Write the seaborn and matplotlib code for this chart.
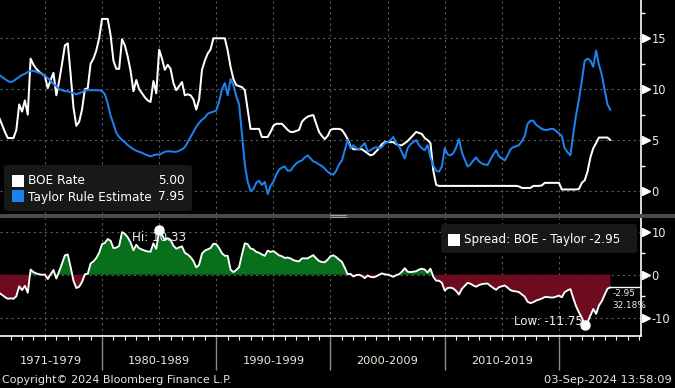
import numpy as np
import pandas as pd
import matplotlib
matplotlib.use("Agg")
import matplotlib.pyplot as plt
import matplotlib.transforms as mtransforms
from matplotlib.patches import FancyBboxPatch, Rectangle
import seaborn as sns

# quarterly readings, 1971.00 ... 2024.50
quarters = np.arange(1971.0, 2024.51, 0.25)

boe_rate = [
    7.2, 6.5, 5.8, 5.2,      # 1971
    5.2, 5.2, 6.0, 8.5,      # 1972
    7.8, 8.9, 7.5, 13.0,     # 1973
    12.4, 12.0, 11.7, 11.5,  # 1974
    11.3, 10.1, 10.9, 11.6,  # 1975
    9.4, 10.8, 12.5, 14.3,   # 1976
    14.5, 11.5, 8.2, 6.4,    # 1977
    6.8, 8.0, 10.0, 10.1,    # 1978
    12.5, 13.0, 13.8, 15.0,  # 1979
    16.9, 16.9, 16.9, 15.3,  # 1980
    12.8, 12.0, 12.0, 14.9,  # 1981
    14.3, 13.2, 11.8, 9.8,   # 1982
    10.9, 10.0, 9.6, 9.2,    # 1983
    8.9, 8.75, 10.8, 9.6,    # 1984
    13.88, 13.0, 11.9, 12.4, # 1985
    12.0, 10.6, 9.9, 10.3,   # 1986
    10.7, 9.4, 9.5, 9.4,     # 1987
    9.0, 8.0, 9.0, 11.9,     # 1988
    12.8, 13.5, 13.9, 15.0,  # 1989
    15.0, 15.0, 15.0, 15.0,  # 1990
    13.8, 12.2, 11.0, 10.4,  # 1991
    10.3, 10.2, 9.9, 8.0,    # 1992
    6.1, 6.1, 6.1, 6.1,      # 1993
    5.3, 5.3, 5.3, 5.8,      # 1994
    6.4, 6.6, 6.6, 6.6,      # 1995
    6.3, 6.0, 5.8, 5.8,      # 1996
    5.9, 6.0, 6.8, 7.1,      # 1997
    7.3, 7.4, 7.45, 6.6,     # 1998
    5.8, 5.4, 5.1, 5.4,      # 1999
    6.0, 6.1, 6.1, 6.1,      # 2000
    6.0, 5.6, 5.1, 4.4,      # 2001
    4.1, 4.1, 4.1, 4.1,      # 2002
    3.9, 3.7, 3.5, 3.6,      # 2003
    3.9, 4.2, 4.6, 4.8,      # 2004
    4.8, 4.8, 4.8, 4.6,      # 2005
    4.5, 4.5, 4.7, 4.9,      # 2006
    5.2, 5.5, 5.8, 5.7,      # 2007
    5.6, 5.2, 5.0, 4.7,      # 2008
    2.0, 0.6, 0.5, 0.5,      # 2009
    0.5, 0.5, 0.5, 0.5,      # 2010
    0.5, 0.5, 0.5, 0.5,      # 2011
    0.5, 0.5, 0.5, 0.5,      # 2012
    0.5, 0.5, 0.5, 0.5,      # 2013
    0.5, 0.5, 0.5, 0.5,      # 2014
    0.5, 0.5, 0.5, 0.5,      # 2015
    0.5, 0.5, 0.45, 0.3,     # 2016
    0.3, 0.3, 0.3, 0.5,      # 2017
    0.5, 0.5, 0.55, 0.8,     # 2018
    0.8, 0.8, 0.8, 0.8,      # 2019
    0.8, 0.15, 0.15, 0.15,   # 2020
    0.15, 0.15, 0.15, 0.2,   # 2021
    0.8, 1.05, 1.9, 3.3,     # 2022
    4.2, 4.7, 5.25, 5.25,    # 2023
    5.25, 5.25, 5.0,         # 2024
]

taylor_rule = [
    11.4, 11.2, 11.0, 10.8,  # 1971
    10.7, 10.8, 11.0, 11.2,  # 1972
    11.4, 11.5, 11.7, 11.8,  # 1973
    11.8, 11.7, 11.6, 11.5,  # 1974
    11.3, 11.1, 10.8, 10.5,  # 1975
    10.3, 10.0, 9.9, 9.8,    # 1976
    9.8, 9.7, 9.6, 9.5,      # 1977
    9.6, 9.7, 9.9, 9.9,      # 1978
    9.9, 9.9, 9.9, 9.9,      # 1979
    9.8, 9.5, 8.6, 7.4,      # 1980
    6.6, 5.7, 5.3, 5.0,      # 1981
    4.8, 4.5, 4.3, 4.1,      # 1982
    3.95, 3.85, 3.75, 3.6,   # 1983
    3.5, 3.4, 3.5, 3.6,      # 1984
    3.55, 3.7, 3.85, 3.9,    # 1985
    3.9, 3.85, 3.85, 3.95,   # 1986
    4.1, 4.3, 4.8, 5.3,      # 1987
    5.8, 6.3, 6.7, 7.0,      # 1988
    7.2, 7.6, 7.7, 7.8,      # 1989
    7.9, 8.8, 10.0, 10.6,    # 1990
    9.4, 11.0, 10.4, 9.3,    # 1991
    8.5, 5.5, 2.6, 0.9,      # 1992
    0.0, 0.2, 0.8, 1.0,      # 1993
    0.6, 0.9, -0.3, 0.5,     # 1994
    0.9, 1.6, 2.1, 2.3,      # 1995
    2.4, 2.0, 2.0, 2.4,      # 1996
    2.7, 2.9, 3.0, 3.3,      # 1997
    3.5, 3.2, 2.9, 2.8,      # 1998
    2.6, 2.45, 2.2, 1.9,     # 1999
    1.7, 1.6, 2.0, 2.6,      # 2000
    3.0, 4.0, 5.0, 4.2,      # 2001
    4.5, 4.2, 4.1, 4.4,      # 2002
    4.7, 3.9, 4.0, 4.2,      # 2003
    4.3, 4.2, 4.3, 4.7,      # 2004
    4.8, 5.0, 5.3, 4.7,      # 2005
    4.4, 3.8, 3.2, 4.2,      # 2006
    4.6, 4.8, 5.0, 4.5,      # 2007
    4.2, 4.0, 4.5, 3.3,      # 2008
    2.5, 2.0, 1.9, 2.4,      # 2009
    4.2, 3.6, 3.5, 3.7,      # 2010
    4.3, 5.1, 3.8, 3.1,      # 2011
    2.4, 2.6, 3.0, 3.3,      # 2012
    2.9, 2.7, 2.6, 2.55,     # 2013
    3.1, 3.6, 4.0, 3.4,      # 2014
    3.2, 3.0, 3.5, 4.1,      # 2015
    4.3, 4.4, 4.5, 4.9,      # 2016
    5.4, 6.6, 6.9, 6.9,      # 2017
    6.5, 6.3, 6.1, 6.0,      # 2018
    6.0, 6.1, 6.1, 5.9,      # 2019
    5.65, 5.4, 4.2, 3.8,     # 2020
    3.5, 5.6, 7.5, 9.0,      # 2021
    10.8, 12.8, 13.0, 12.8,  # 2022
    12.2, 13.8, 12.4, 11.4,  # 2023
    9.9, 8.5, 7.95,          # 2024
]

decade_edges = [1971, 1980, 1990, 2000, 2010, 2020]
decade_labels = ["1971-1979", "1980-1989", "1990-1999", "2000-2009", "2010-2019"]
grid_years = [1975, 1980, 1985, 1990, 1995, 2000, 2005, 2010, 2015, 2020]
year_ticks = list(range(1972, 2028))
top_ticks, top_minor = [0, 5, 10, 15], [2.5, 7.5, 12.5, 17.5]
bot_ticks, bot_minor = [-10, 0, 10], [-5, 5]
spread_pct = "32.18%"

BLUE = "#1c82ee"
GREEN = "#08701a"
RED = "#6e0c1f"
LABEL = "#f0e8dc"
GRID = "#5c5c5c"

df = pd.DataFrame({"date": quarters, "boe": boe_rate, "taylor": taylor_rule})
df["spread"] = df["boe"] - df["taylor"]

sns.set_theme(style="dark", rc={"axes.facecolor": "black", "figure.facecolor": "black"})
plt.rcParams["font.family"] = ["DejaVu Sans"]
plt.rcParams["axes.unicode_minus"] = False

W, H = 675, 388
X0, X1 = 1971.07, 2027.18
fig = plt.figure(figsize=(W / 100, H / 100), dpi=100, facecolor="black")


def box(l, t, r, b):
    return [l / W, 1 - b / H, (r - l) / W, (b - t) / H]


ax1 = fig.add_axes(box(0, 0, 641, 213.5))
ax2 = fig.add_axes(box(0, 218, 641, 336))

for ax in (ax1, ax2):
    ax.set_facecolor("black")
    ax.set_xlim(X0, X1)
    for yr in grid_years:
        ax.axvline(yr, color=GRID, lw=0.8, ls=(0, (2, 3)), zorder=1)
    for s in ("top", "left", "bottom"):
        ax.spines[s].set_visible(False)
    ax.spines["right"].set_color("white")
    ax.spines["right"].set_linewidth(1.2)

# top panel
ax1.set_ylim(-2.21, 18.76)
for v in top_ticks:
    ax1.axhline(v, color=GRID, lw=0.8, ls=(0, (2, 3)), zorder=1)
sns.lineplot(data=df, x="date", y="boe", ax=ax1, color="white", lw=1.45, zorder=4)
sns.lineplot(data=df, x="date", y="taylor", ax=ax1, color=BLUE, lw=1.45, zorder=5)

# bottom panel
ax2.set_ylim(-14.26, 13.19)
for v in bot_ticks:
    ax2.axhline(v, color=GRID, lw=0.8, ls=(0, (2, 3)), zorder=1)
ax2.fill_between(df["date"], df["spread"], 0, where=df["spread"] >= 0,
                 interpolate=True, color=GREEN, lw=0, zorder=2)
ax2.fill_between(df["date"], df["spread"], 0, where=df["spread"] <= 0,
                 interpolate=True, color=RED, lw=0, zorder=2)
sns.lineplot(data=df, x="date", y="spread", ax=ax2, color="white", lw=1.35, zorder=4)
ax2.spines["bottom"].set_visible(True)
ax2.spines["bottom"].set_color("white")
ax2.spines["bottom"].set_linewidth(1.2)

last_x, last_v = df["date"].iloc[-1], df["spread"].iloc[-1]
ax2.plot([last_x, X1], [last_v, last_v], color="white", lw=1.0, zorder=4)

# y axes on the right, triangle markers at majors
for ax, maj, mnr in ((ax1, top_ticks, top_minor), (ax2, bot_ticks, bot_minor)):
    ax.set_xlabel("")
    ax.set_ylabel("")
    ax.yaxis.tick_right()
    ax.set_yticks(maj)
    ax.set_yticks(mnr, minor=True)
    ax.tick_params(axis="y", which="major", length=0, pad=7.5, labelsize=8.3,
                   labelcolor=LABEL)
    ax.tick_params(axis="y", which="minor", right=True, length=3, width=1,
                   color="white", direction="out")
    tr = mtransforms.offset_copy(ax.get_yaxis_transform(), fig=fig, x=4.5, y=0, units="dots")
    ax.plot([1.0] * len(maj), maj, ls="none", marker=">", ms=5.5, color="white",
            transform=tr, clip_on=False, zorder=6)

ax1.set_xticks([])
ax2.set_xticks(decade_edges[1:])
ax2.set_xticklabels([])
ax2.set_xticks(year_ticks, minor=True)
ax2.tick_params(axis="x", which="major", bottom=True, length=24.5, width=1, color="#8c8c8c")
ax2.tick_params(axis="x", which="minor", bottom=True, length=3, width=0.8, color="white")
for i, lab in enumerate(decade_labels):
    mid = (max(decade_edges[i], X0) + decade_edges[i + 1]) / 2
    ax2.text(mid, -0.212, lab, transform=ax2.get_xaxis_transform(), ha="center",
             va="center", fontsize=8.2, color=LABEL)

# high / low markers
i_hi, i_lo = df["spread"].idxmax(), df["spread"].idxmin()
for idx, txt, off, ha in ((i_hi, "Hi: {:.2f}", (0, -5), "center"),
                          (i_lo, "Low: {:.2f}", (-1, 3), "right")):
    xv, yv = df["date"][idx], df["spread"][idx]
    ax2.annotate(txt.format(yv), (xv, yv), xytext=off, textcoords="offset points",
                 ha=ha, va="center", fontsize=8.6, color="#eeeeee", zorder=3)
    ax2.plot(xv, yv, "o", ms=6.5, color="white", zorder=6)

ax2.annotate(f"{last_v:.2f}", (last_x, last_v), xytext=(1.5, -4.5), textcoords="offset points",
             ha="left", va="center", fontsize=6.4, color="#e8eef5", zorder=6)
ax2.annotate(spread_pct, (last_x, last_v), xytext=(1.5, -13), textcoords="offset points",
             ha="left", va="center", fontsize=6.4, color="#e8eef5", zorder=6, annotation_clip=False)

# legends
def fx(x):
    return x / W


def fy(y):
    return 1 - y / H


def legend_box(l, t, r, b):
    fig.patches.append(FancyBboxPatch((fx(l), fy(b)), fx(r - l), (b - t) / H,
                                      boxstyle="round,pad=0,rounding_size=0.006",
                                      transform=fig.transFigure, facecolor="#181818",
                                      edgecolor="none", zorder=10))


def swatch(l, t, size, color):
    fig.patches.append(Rectangle((fx(l), fy(t + size)), size / W, size / H,
                                 transform=fig.transFigure, facecolor=color,
                                 edgecolor="none", zorder=11))


legend_box(4, 165, 192, 211)
swatch(12, 175, 12, "white")
swatch(12, 190, 12, BLUE)
fig.text(fx(28), fy(181), "BOE Rate", fontsize=8.7, color="white", va="center", zorder=12)
fig.text(fx(185), fy(181), f"{df['boe'].iloc[-1]:.2f}", fontsize=8.7, color="white",
         va="center", ha="right", zorder=12)
fig.text(fx(28), fy(197), "Taylor Rule Estimate", fontsize=8.7, color="white", va="center", zorder=12)
fig.text(fx(185), fy(197), f"{df['taylor'].iloc[-1]:.2f}", fontsize=8.7, color="white",
         va="center", ha="right", zorder=12)

legend_box(441, 224, 637, 253)
swatch(448, 234, 12, "white")
fig.text(fx(464), fy(240), f"Spread: BOE - Taylor {last_v:.2f}", fontsize=8.6, color="white",
         va="center", zorder=12)

# panel divider
fig.patches.append(Rectangle((0, fy(217.5)), 1, 4 / H, transform=fig.transFigure,
                             facecolor="#4a4a4a", edgecolor="none", zorder=9))
for yy in (215, 217):
    fig.lines.append(plt.Line2D([fx(330), fx(346)], [fy(yy), fy(yy)], transform=fig.transFigure,
                                color="#a0a0a0", lw=0.8, zorder=10))

fig.text(fx(2), fy(380), "Copyright\u00a9 2024 Bloomberg Finance L.P.", fontsize=8,
         color="#e6e6e6", va="center")
fig.text(fx(672), fy(380), "03-Sep-2024 13:58:09", fontsize=8.2, color="#e6e6e6",
         va="center", ha="right")

fig.savefig("out.png", dpi=100, facecolor="black")
